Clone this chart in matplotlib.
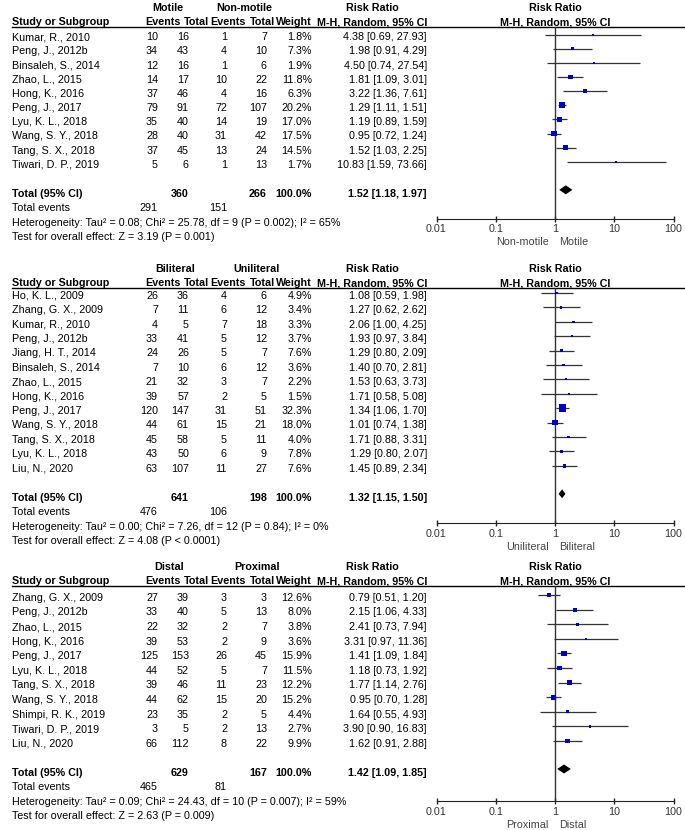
# Forest plots (RevMan style), tres comparaciones
import matplotlib
matplotlib.use('Agg')
import matplotlib.pyplot as plt
from matplotlib.ticker import NullLocator

plt.rcParams['font.family'] = ['Liberation Sans', 'DejaVu Sans']
plt.rcParams['font.size'] = 7.75

# INGRESO ---------
# Panel 1: Motile vs Non-motile
mot_estudios = ['Kumar, R., 2010', 'Peng, J., 2012b', 'Binsaleh, S., 2014',
                'Zhao, L., 2015', 'Hong, K., 2016', 'Peng, J., 2017',
                'Lyu, K. L., 2018', 'Wang, S. Y., 2018', 'Tang, S. X., 2018',
                'Tiwari, D. P., 2019']
mot_ev1 = [10, 34, 12, 14, 37, 79, 35, 28, 37, 5]
mot_n1 = [16, 43, 16, 17, 46, 91, 40, 40, 45, 6]
mot_ev2 = [1, 4, 1, 10, 4, 72, 14, 31, 13, 1]
mot_n2 = [7, 10, 6, 22, 16, 107, 19, 42, 24, 13]
mot_peso = [1.8, 7.3, 1.9, 11.8, 6.3, 20.2, 17.0, 17.5, 14.5, 1.7]
mot_rr = [4.38, 1.98, 4.50, 1.81, 3.22, 1.29, 1.19, 0.95, 1.52, 10.83]
mot_lo = [0.69, 0.91, 0.74, 1.09, 1.36, 1.11, 0.89, 0.72, 1.03, 1.59]
mot_hi = [27.93, 4.29, 27.54, 3.01, 7.61, 1.51, 1.59, 1.24, 2.25, 73.66]
mot_total = [291, 360, 151, 266]          # eventos1, total1, eventos2, total2
mot_global = [1.52, 1.18, 1.97]
mot_grupos = ['Motile', 'Non-motile']
mot_het = 'Heterogeneity: Tau² = 0.08; Chi² = 25.78, df = 9 (P = 0.002); I² = 65%'
mot_test = 'Test for overall effect: Z = 3.19 (P = 0.001)'

# Panel 2: Biliteral vs Uniliteral
bil_estudios = ['Ho, K. L., 2009', 'Zhang, G. X., 2009', 'Kumar, R., 2010',
                'Peng, J., 2012b', 'Jiang, H. T., 2014', 'Binsaleh, S., 2014',
                'Zhao, L., 2015', 'Hong, K., 2016', 'Peng, J., 2017',
                'Wang, S. Y., 2018', 'Tang, S. X., 2018', 'Lyu, K. L., 2018',
                'Liu, N., 2020']
bil_ev1 = [26, 7, 4, 33, 24, 7, 21, 39, 120, 44, 45, 43, 63]
bil_n1 = [36, 11, 5, 41, 26, 10, 32, 57, 147, 61, 58, 50, 107]
bil_ev2 = [4, 6, 7, 5, 5, 6, 3, 2, 31, 15, 5, 6, 11]
bil_n2 = [6, 12, 18, 12, 7, 12, 7, 5, 51, 21, 11, 9, 27]
bil_peso = [4.9, 3.4, 3.3, 3.7, 7.6, 3.6, 2.2, 1.5, 32.3, 18.0, 4.0, 7.8, 7.6]
bil_rr = [1.08, 1.27, 2.06, 1.93, 1.29, 1.40, 1.53, 1.71, 1.34, 1.01, 1.71, 1.29, 1.45]
bil_lo = [0.59, 0.62, 1.00, 0.97, 0.80, 0.70, 0.63, 0.58, 1.06, 0.74, 0.88, 0.80, 0.89]
bil_hi = [1.98, 2.62, 4.25, 3.84, 2.09, 2.81, 3.73, 5.08, 1.70, 1.38, 3.31, 2.07, 2.34]
bil_total = [476, 641, 106, 198]
bil_global = [1.32, 1.15, 1.50]
bil_grupos = ['Biliteral', 'Uniliteral']
bil_het = 'Heterogeneity: Tau² = 0.00; Chi² = 7.26, df = 12 (P = 0.84); I² = 0%'
bil_test = 'Test for overall effect: Z = 4.08 (P < 0.0001)'

# Panel 3: Distal vs Proximal
dis_estudios = ['Zhang, G. X., 2009', 'Peng, J., 2012b', 'Zhao, L., 2015',
                'Hong, K., 2016', 'Peng, J., 2017', 'Lyu, K. L., 2018',
                'Tang, S. X., 2018', 'Wang, S. Y., 2018', 'Shimpi, R. K., 2019',
                'Tiwari, D. P., 2019', 'Liu, N., 2020']
dis_ev1 = [27, 33, 22, 39, 125, 44, 39, 44, 23, 3, 66]
dis_n1 = [39, 40, 32, 53, 153, 52, 46, 62, 35, 5, 112]
dis_ev2 = [3, 5, 2, 2, 26, 5, 11, 15, 2, 2, 8]
dis_n2 = [3, 13, 7, 9, 45, 7, 23, 20, 5, 13, 22]
dis_peso = [12.6, 8.0, 3.8, 3.6, 15.9, 11.5, 12.2, 15.2, 4.4, 2.7, 9.9]
dis_rr = [0.79, 2.15, 2.41, 3.31, 1.41, 1.18, 1.77, 0.95, 1.64, 3.90, 1.62]
dis_lo = [0.51, 1.06, 0.73, 0.97, 1.09, 0.73, 1.14, 0.70, 0.55, 0.90, 0.91]
dis_hi = [1.20, 4.33, 7.94, 11.36, 1.84, 1.92, 2.76, 1.28, 4.93, 16.83, 2.88]
dis_total = [465, 629, 81, 167]
dis_global = [1.42, 1.09, 1.85]
dis_grupos = ['Distal', 'Proximal']
dis_het = 'Heterogeneity: Tau² = 0.09; Chi² = 24.43, df = 10 (P = 0.007); I² = 59%'
dis_test = 'Test for overall effect: Z = 2.63 (P = 0.009)'

ticks = [0.01, 0.1, 1, 10, 100]
tick_txt = ['0.01', '0.1', '1', '10', '100']

# PROCEDIMIENTO / GRAFICA ---------
W, H = 685, 830
fig = plt.figure(figsize=(W/100, H/100), dpi=100)
fondo = fig.add_axes([0, 0, 1, 1])
fondo.set_xlim(0, W)
fondo.set_ylim(H, 0)
fondo.axis('off')

# columnas (pixeles)
x_nom = 12
x_c1, x_c2, x_c3, x_c4, x_w, x_ci = 158, 189, 227, 267, 312, 427
x0, x1 = 436.5, 673.5   # eje del forest
azul = '#0000c8'
dy = 3.85  # medio alto de letra


def txt(x, y, s, ha='left', bold=False, color='black'):
    fondo.text(x, y + dy, s, ha=ha, va='baseline',
               fontweight='bold' if bold else 'normal', color=color)


def panel(estudios, ev1, n1, ev2, n2, peso, rr, lo, hi, total, glob,
          grupos, het, test, y_h1, y_primera, paso, y_eje, xg):
    y_h2 = y_h1 + 14.5
    y_linea = y_h2 + 5.5
    # encabezados
    txt(xg[0], y_h1, grupos[0], ha='center', bold=True)
    txt(xg[1], y_h1, grupos[1], ha='center', bold=True)
    txt(372, y_h1, 'Risk Ratio', ha='center', bold=True)
    txt(555, y_h1, 'Risk Ratio', ha='center', bold=True)
    txt(x_nom, y_h2, 'Study or Subgroup', bold=True)
    txt(163, y_h2, 'Events', ha='center', bold=True)
    txt(196, y_h2, 'Total', ha='center', bold=True)
    txt(228, y_h2, 'Events', ha='center', bold=True)
    txt(262, y_h2, 'Total', ha='center', bold=True)
    txt(x_w, y_h2, 'Weight', ha='right', bold=True)
    txt(x_ci, y_h2, 'M-H, Random, 95% CI', ha='right', bold=True)
    txt(555, y_h2, 'M-H, Random, 95% CI', ha='center', bold=True)
    fondo.plot([x_nom, W], [y_linea, y_linea], color='black', lw=1)

    filas = [y_primera + i*paso for i in range(len(estudios))]
    for i, y in enumerate(filas):
        txt(x_nom, y, estudios[i])
        txt(x_c1, y, str(ev1[i]), ha='right')
        txt(x_c2, y, str(n1[i]), ha='right')
        txt(x_c3, y, str(ev2[i]), ha='right')
        txt(x_c4, y, str(n2[i]), ha='right')
        txt(x_w, y, f'{peso[i]:.1f}%', ha='right')
        txt(x_ci, y, f'{rr[i]:.2f} [{lo[i]:.2f}, {hi[i]:.2f}]', ha='right')

    y_tot = filas[-1] + 29
    txt(x_nom, y_tot, 'Total (95% CI)', bold=True)
    txt(x_c2, y_tot, str(total[1]), ha='right', bold=True)
    txt(x_c4, y_tot, str(total[3]), ha='right', bold=True)
    txt(x_w, y_tot, '100.0%', ha='right', bold=True)
    txt(x_ci, y_tot, f'{glob[0]:.2f} [{glob[1]:.2f}, {glob[2]:.2f}]', ha='right', bold=True)
    txt(x_nom, y_tot + 14.5, 'Total events')
    txt(x_c1, y_tot + 14.5, str(total[0]), ha='right')
    txt(x_c3, y_tot + 14.5, str(total[2]), ha='right')
    txt(x_nom, y_tot + 29, het)
    txt(x_nom, y_tot + 43.5, test)

    # forest plot
    ax = fig.add_axes([x0/W, 1 - y_eje/H, (x1 - x0)/W, (y_eje - y_linea)/H])
    ax.patch.set_alpha(0)
    ax.set_xscale('log')
    ax.set_xlim(0.01, 100)
    ax.set_ylim(y_eje, y_linea)
    for lado in ['top', 'right', 'left']:
        ax.spines[lado].set_visible(False)
    ax.spines['bottom'].set_color('#222222')
    ax.set_xticks(ticks)
    ax.set_xticklabels(tick_txt)
    ax.xaxis.set_minor_locator(NullLocator())
    ax.tick_params(axis='x', direction='inout', length=5, width=1,
                   color='#222222', labelcolor='#333333', pad=1.5)
    ax.set_yticks([])
    ax.axvline(1, color='#333333', lw=1)

    ym = [y - 2 for y in filas]
    ax.hlines(ym, lo, hi, color='#333333', lw=0.9)
    lados = [max(2.0, 1.35*p**0.5) for p in peso]
    ax.scatter(rr, ym, s=[(l*0.72)**2 for l in lados], marker='s',
               color=azul, edgecolors='none', zorder=3)
    yd = y_tot - 3
    ax.fill([glob[1], glob[0], glob[2], glob[0]],
            [yd, yd - 4.5, yd, yd + 4.5], color='black', lw=0, zorder=3)

    txt(549, y_eje + 23, grupos[1], ha='right', color='#444444')
    txt(559, y_eje + 23, grupos[0], ha='left', color='#444444')


panel(mot_estudios, mot_ev1, mot_n1, mot_ev2, mot_n2, mot_peso, mot_rr,
      mot_lo, mot_hi, mot_total, mot_global, mot_grupos, mot_het, mot_test,
      7, 36.5, 14.15, 218.5, (168, 244))
panel(bil_estudios, bil_ev1, bil_n1, bil_ev2, bil_n2, bil_peso, bil_rr,
      bil_lo, bil_hi, bil_total, bil_global, bil_grupos, bil_het, bil_test,
      268, 295, 14.4, 523, (175, 257))
panel(dis_estudios, dis_ev1, dis_n1, dis_ev2, dis_n2, dis_peso, dis_rr,
      dis_lo, dis_hi, dis_total, dis_global, dis_grupos, dis_het, dis_test,
      566, 597, 14.6, 801, (169, 257))

fig.savefig('out.png', dpi=100)
